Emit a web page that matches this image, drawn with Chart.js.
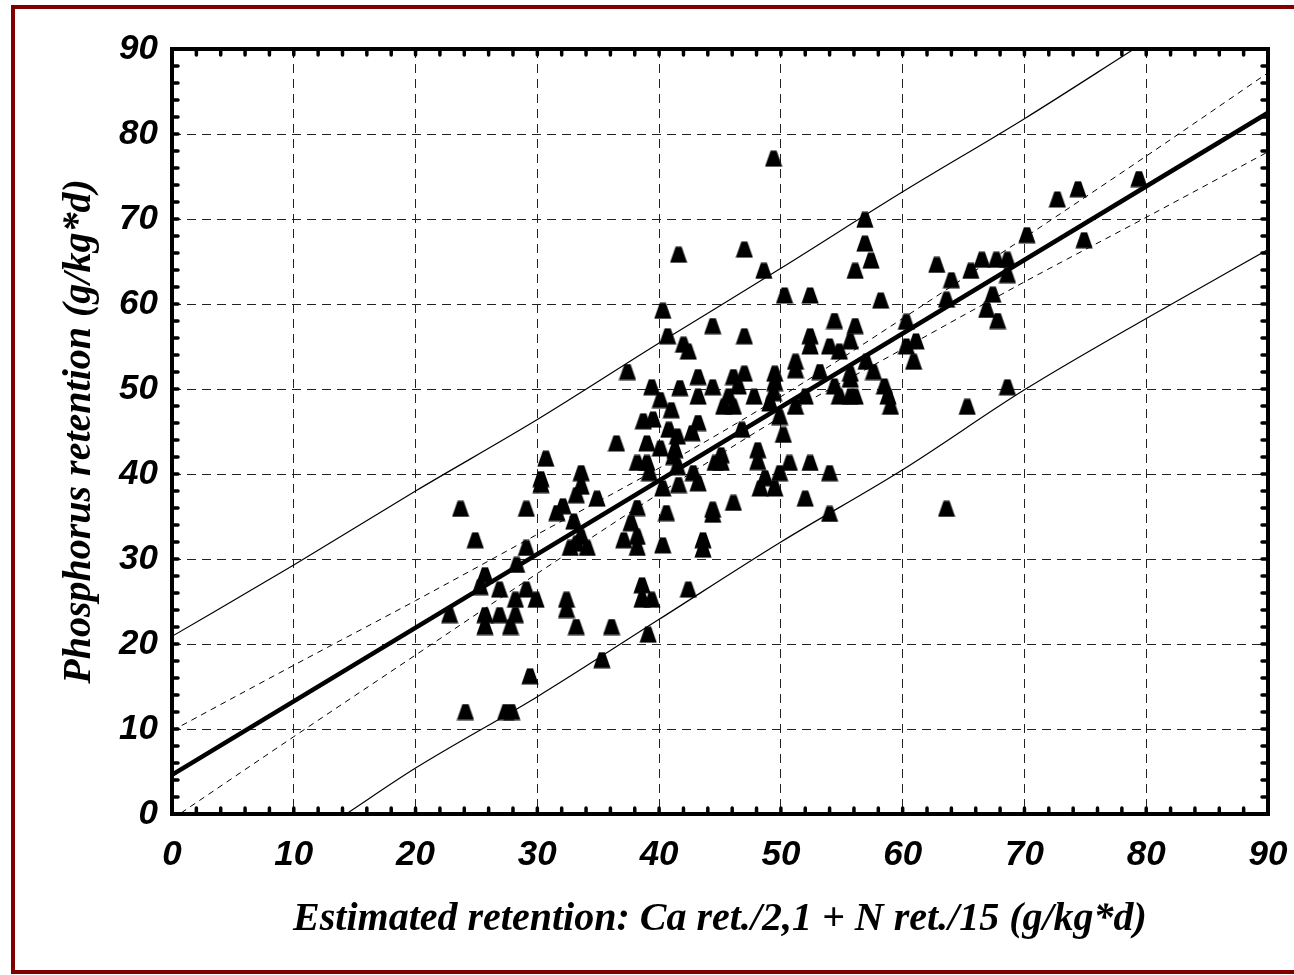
<!DOCTYPE html>
<html>
<head>
<meta charset="utf-8">
<script src="https://cdn.jsdelivr.net/npm/chart.js@4.4.1/dist/chart.umd.min.js"></script>
<style>
  html, body { margin: 0; padding: 0; background: #fff; overflow: hidden; }
  #frame { position: absolute; left: 11px; top: 5px; width: 1320px; height: 969px; box-sizing: border-box; border: 4px solid #800000; }
  #c { position: absolute; left: 0; top: 0; }
</style>
</head>
<body>
<div id="frame"></div>
<canvas id="c" width="1294" height="975"></canvas>
<script>
// measured points: estimated retention (x) vs phosphorus retention (y)
var estX = [41.6,40.3,40.7,37.4,39.4,40.1,41.0,38.7,39.5,40.8,
  49.4,47.0,56.9,56.9,57.4,56.1,48.6,50.3,52.4,58.2,
  44.4,47.0,54.4,56.1,42.0,42.4,52.4,52.4,54.0,54.8,
  55.7,60.3,61.1,60.3,60.9,51.2,51.2,53.2,57.0,57.6,
  55.7,55.7,43.2,46.1,47.0,49.5,49.5,44.4,46.5,41.7,
  43.2,45.7,45.3,46.1,47.8,49.1,49.4,49.9,51.2,52.0,
  54.4,54.8,55.7,56.1,58.5,58.8,59.0,43.2,42.7,46.8,
  50.2,79.4,74.4,72.7,70.2,74.9,62.8,64.0,65.6,66.5,
  67.7,68.6,68.6,67.4,63.6,66.9,67.8,68.6,65.3,63.6,
  41.5,36.5,39.0,40.1,41.3,38.2,39.0,41.2,41.5,39.2,
  42.8,43.2,40.3,41.6,44.6,44.4,40.6,38.2,37.7,38.2,
  37.1,38.2,40.3,43.6,43.6,38.6,38.6,39.4,42.4,39.1,
  36.1,33.2,30.7,30.3,30.3,33.6,33.6,33.2,34.9,32.1,
  31.6,33.0,33.2,34.1,32.7,33.6,23.7,29.1,24.9,29.1,
  28.3,25.7,25.3,26.9,29.1,28.2,29.9,22.8,25.7,25.7,
  26.9,28.2,27.8,32.4,32.4,35.3,29.4,24.1,27.4,27.9,
  45.1,45.1,48.1,48.1,50.7,52.4,54.0,48.3,49.5,49.9,
  48.7,52.0,44.4,46.1,54.0];
var pRet = [65.8,59.2,56.2,52.0,50.2,48.7,47.5,46.2,46.4,45.2,
  77.1,66.4,69.9,67.1,65.1,63.9,63.9,61.0,61.0,60.4,
  57.4,56.2,58.0,57.4,55.2,54.4,56.2,55.0,55.0,54.4,
  55.6,57.9,55.6,55.0,53.2,53.2,52.2,52.0,53.2,52.0,
  51.8,51.1,51.4,51.4,51.8,51.8,50.7,50.2,50.3,50.1,
  49.1,49.1,47.9,47.9,49.1,48.3,49.5,46.7,47.9,49.1,
  50.3,49.1,49.1,49.1,50.3,49.1,47.9,46.0,44.8,45.2,
  44.6,74.7,73.5,72.3,68.1,67.5,64.6,62.8,63.9,65.2,
  65.2,65.2,63.4,61.1,60.5,59.3,58.0,50.2,47.9,35.9,
  44.4,43.6,43.6,43.0,42.8,41.3,41.3,42.0,40.8,40.1,
  40.1,38.9,38.3,38.7,41.3,35.8,35.4,36.0,34.2,32.6,
  32.2,31.3,31.6,32.2,31.1,26.9,25.2,25.2,26.4,21.1,
  22.0,22.0,41.8,39.4,38.7,40.1,38.5,37.5,37.1,36.2,
  35.4,34.4,31.8,31.3,31.3,32.6,35.9,35.9,32.2,31.3,
  29.3,28.1,26.7,26.4,26.4,25.2,25.2,23.4,23.4,22.0,
  23.4,23.4,22.0,25.2,24.0,18.1,16.2,12.0,12.0,12.0,
  42.2,41.3,42.8,41.4,41.3,41.3,40.1,38.3,38.3,40.1,
  39.5,37.1,35.2,36.6,35.3];

// regression line
var regX = [0, 90];
var regY = [4.6, 82.5];
// confidence band
var confX = [0, 10, 20, 30, 40, 50, 60, 70, 80, 90];
var confUpY = [9.8, 17.5, 25.1, 32.9, 40.7, 49.1, 58.3, 67.8, 77.4, 87.2];
var confLoY = [-0.6, 9.1, 18.7, 28.3, 37.7, 46.7, 54.7, 62.6, 70.2, 77.9];
// prediction band
var predUpX = [0, 10, 20, 30, 40, 50, 60, 70, 79.0];
var predUpY = [20.9, 29.3, 38.0, 46.4, 55.4, 64.2, 73.2, 81.8, 90];
var predLoX = [14.3, 20, 30, 40, 50, 60, 70, 80, 90];
var predLoY = [0, 5.4, 13.8, 22.9, 32.0, 40.5, 49.9, 58.3, 66.4];

var xTicks = [0, 10, 20, 30, 40, 50, 60, 70, 80, 90];
var yTicks = [0, 10, 20, 30, 40, 50, 60, 70, 80, 90];

function pts(xs, ys) {
    return xs.map(function (v, i) { return {x: v, y: ys[i]}; });
}

function makeMarker() {
    var c = document.createElement('canvas');
    c.width = 18;
    c.height = 17;
    var g = c.getContext('2d');
    g.fillStyle = '#000';
    g.beginPath();
    g.moveTo(6, 0.5);
    g.lineTo(12, 0.5);
    g.lineTo(17.6, 16.5);
    g.lineTo(0.4, 16.5);
    g.closePath();
    g.fill();
    return c;
}

// frame and inward ticks (major + minor every 2 units)
const frameTicks = {
    id: 'frameTicks',
    afterDraw(chart) {
        const ctx = chart.ctx;
        const a = chart.chartArea;
        const x = chart.scales.x, y = chart.scales.y;
        ctx.save();
        ctx.strokeStyle = '#000';
        ctx.lineCap = 'round';
        ctx.lineWidth = 3.5;
        for (let v = 0; v <= 90; v += 2) {
            const px = x.getPixelForValue(v), py = y.getPixelForValue(v);
            ctx.beginPath();
            ctx.moveTo(px, a.bottom); ctx.lineTo(px, a.bottom - 6);
            ctx.moveTo(px, a.top); ctx.lineTo(px, a.top + 6);
            ctx.moveTo(a.left, py); ctx.lineTo(a.left + 6, py);
            ctx.moveTo(a.right, py); ctx.lineTo(a.right - 6, py);
            ctx.stroke();
        }
        ctx.lineCap = 'butt';
        ctx.lineWidth = 4;
        ctx.strokeRect(a.left, a.top, a.right - a.left, a.bottom - a.top);
        ctx.restore();
    }
};

const tickFont = {family: 'Liberation Sans', size: 35, weight: 'bold', style: 'italic'};
const titleFont = {family: 'Liberation Serif', size: 40, weight: 'bold', style: 'italic'};
const marker = makeMarker();

new Chart(document.getElementById('c'), {
    type: 'scatter',
    data: {
        datasets: [
            {
                data: pts(estX, pRet),
                pointStyle: marker,
                pointRadius: 9,
                order: 0
            },
            {
                data: pts(regX, regY),
                showLine: true, pointRadius: 0,
                borderColor: '#000', borderWidth: 4.5,
                order: 1
            },
            {
                data: pts(confX, confUpY),
                showLine: true, pointRadius: 0, cubicInterpolationMode: 'monotone',
                borderColor: '#000', borderWidth: 1, borderDash: [6, 5],
                order: 2
            },
            {
                data: pts(confX, confLoY),
                showLine: true, pointRadius: 0, cubicInterpolationMode: 'monotone',
                borderColor: '#000', borderWidth: 1, borderDash: [6, 5],
                order: 2
            },
            {
                data: pts(predUpX, predUpY),
                showLine: true, pointRadius: 0, cubicInterpolationMode: 'monotone',
                borderColor: '#000', borderWidth: 1.2,
                order: 3
            },
            {
                data: pts(predLoX, predLoY),
                showLine: true, pointRadius: 0, cubicInterpolationMode: 'monotone',
                borderColor: '#000', borderWidth: 1.2,
                order: 3
            }
        ]
    },
    options: {
        responsive: false,
        devicePixelRatio: 1,
        animation: false,
        layout: {padding: {top: 49, right: 26, bottom: 0, left: 0}},
        plugins: {legend: {display: false}, tooltip: {enabled: false}},
        scales: {
            x: {
                type: 'linear', min: 0, max: 90,
                afterFit: function (s) {
                    s.height = 161;
                    s.paddingLeft = 0;
                    s.paddingRight = 0;
                },
                afterBuildTicks: function (s) { s.ticks = xTicks.map(function (v) { return {value: v}; }); },
                ticks: {color: '#000', padding: 20, font: tickFont, maxRotation: 0},
                grid: {color: '#222', lineWidth: 1, drawTicks: false},
                border: {display: false, dash: [9, 6]},
                title: {
                    display: true,
                    text: 'Estimated retention: Ca ret./2,1 + N ret./15 (g/kg*d)',
                    color: '#000', font: titleFont,
                    padding: {top: 0, bottom: 31}
                }
            },
            y: {
                type: 'linear', min: 0, max: 90,
                afterFit: function (s) {
                    s.width = 172;
                    s.paddingTop = 0;
                    s.paddingBottom = 0;
                },
                afterBuildTicks: function (s) { s.ticks = yTicks.map(function (v) { return {value: v}; }); },
                ticks: {color: '#000', padding: 14, font: tickFont},
                grid: {color: '#222', lineWidth: 1, drawTicks: false},
                border: {display: false, dash: [9, 6]},
                title: {
                    display: true,
                    text: 'Phosphorus retention (g/kg*d)',
                    color: '#000', font: titleFont,
                    padding: {top: 56, bottom: 0}
                }
            }
        }
    },
    plugins: [frameTicks]
});
</script>
</body>
</html>
